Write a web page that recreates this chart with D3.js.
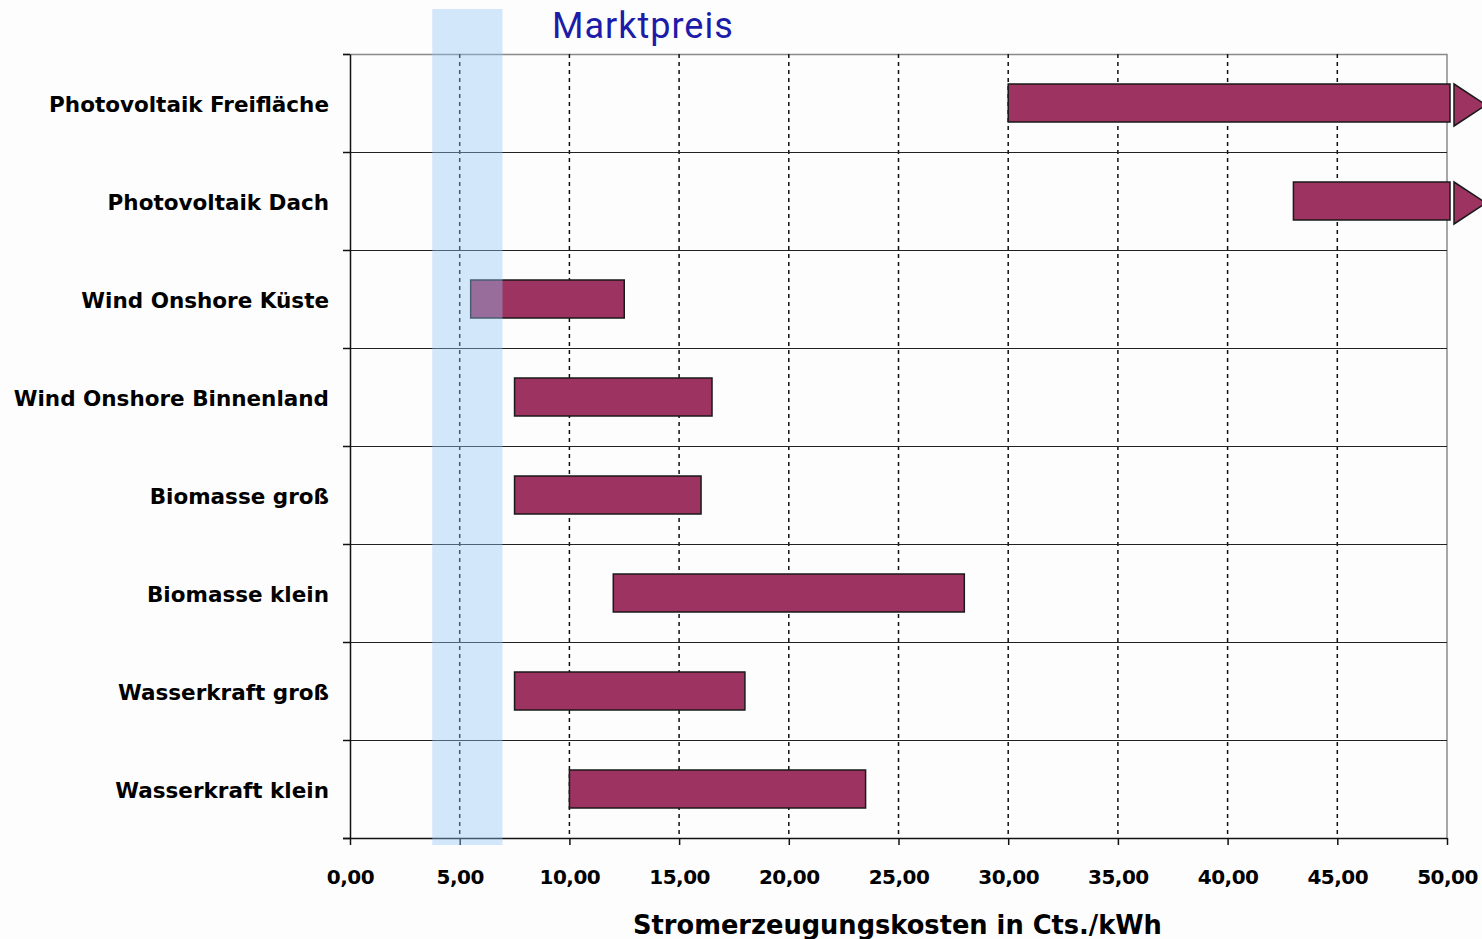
<!DOCTYPE html>
<html>
<head>
<meta charset="utf-8">
<script src="https://cdn.jsdelivr.net/npm/d3@7"></script>
<style>
  body { margin: 0; background: #fdfdfd; }
  svg { display: block; }
</style>
</head>
<body>
<div id="chart"></div>
<script>
// Data
const categories = [
  "Photovoltaik Freifläche",
  "Photovoltaik Dach",
  "Wind Onshore Küste",
  "Wind Onshore Binnenland",
  "Biomasse groß",
  "Biomasse klein",
  "Wasserkraft groß",
  "Wasserkraft klein"
];
const costLow = [30, 43, 5.5, 7.5, 7.5, 12, 7.5, 10];
const costHigh = [50, 50, 12.5, 16.5, 16, 28, 18, 23.5];
const openEnded = [true, true, false, false, false, false, false, false];
const marketPrice = [3.75, 6.95];
const xTicks = [0, 5, 10, 15, 20, 25, 30, 35, 40, 45, 50];

const W = 1482, H = 939;
const mLeft = 350, mRight = 1447, mTop = 54, mBottom = 838;
const labelFont = "'DejaVu Sans', Verdana, sans-serif";

const svg = d3.select("#chart").append("svg")
  .attr("width", W).attr("height", H);

const x = d3.scaleLinear().domain([0, 50]).range([mLeft, mRight]);
const y = d3.scaleBand().domain(categories).range([mTop, mBottom]);

const fmt = d => d3.format(".2f")(d).replace(".", ",");

// plot frame (top + right, grey)
svg.append("path")
  .attr("d", `M${mLeft - 7},${mTop + 0.5}H${mRight}V${mBottom}`)
  .attr("fill", "none").attr("stroke", "#8a8a8a").attr("stroke-width", 1.5);

// vertical dashed grid
svg.append("g").selectAll("line")
  .data(xTicks.filter(d => d > 0 && d < 50))
  .enter().append("line")
  .attr("x1", d => x(d)).attr("x2", d => x(d))
  .attr("y1", mTop).attr("y2", mBottom)
  .attr("stroke", "#111").attr("stroke-width", 1.5)
  .attr("stroke-dasharray", "4,4");

// row separators
svg.append("g").selectAll("line")
  .data(categories.slice(1))
  .enter().append("line")
  .attr("x1", mLeft - 7).attr("x2", mRight)
  .attr("y1", d => y(d) + 0.5).attr("y2", d => y(d) + 0.5)
  .attr("stroke", "#222").attr("stroke-width", 1.2);

// x axis
const xAxis = svg.append("g")
  .attr("transform", `translate(0,${mBottom})`)
  .call(d3.axisBottom(x).tickValues(xTicks).tickFormat(fmt).tickSize(7).tickPadding(25).tickSizeOuter(0));
xAxis.select(".domain").attr("d", `M${mLeft - 7},0.5H${mRight}`).attr("stroke", "#111").attr("stroke-width", 1.5);
xAxis.selectAll(".tick line").attr("stroke", "#111").attr("stroke-width", 1.5);
xAxis.selectAll(".tick text")
  .attr("fill", "#000")
  .style("font-family", labelFont)
  .style("font-weight", "bold")
  .style("letter-spacing", "-0.5px")
  .style("font-size", "20px");

// y axis
const yAxis = svg.append("g")
  .attr("transform", `translate(${mLeft},0)`)
  .call(d3.axisLeft(y).tickSize(0).tickPadding(21));
yAxis.select(".domain").attr("stroke", "#111").attr("stroke-width", 1.5);
yAxis.selectAll(".tick text")
  .attr("fill", "#000")
  .attr("dy", "0.4em")
  .style("font-family", labelFont)
  .style("font-weight", "bold")
  .style("font-size", "21.5px");
// y ticks at row boundaries
svg.append("g").selectAll("line")
  .data(categories.map(c => y(c)).concat([mBottom]))
  .enter().append("line")
  .attr("x1", mLeft - 7).attr("x2", mLeft)
  .attr("y1", d => d + 0.5).attr("y2", d => d + 0.5)
  .attr("stroke", "#111").attr("stroke-width", 1.5);

// bars
const barH = 38;
svg.append("g").selectAll("rect")
  .data(categories)
  .enter().append("rect")
  .attr("x", (d, i) => x(costLow[i]))
  .attr("width", (d, i) => x(costHigh[i]) - x(costLow[i]) + (openEnded[i] ? 3 : 0))
  .attr("y", d => y(d) + y.bandwidth() / 2 - barH / 2)
  .attr("height", barH)
  .attr("fill", "#9c3360")
  .attr("stroke", "#1a1a1a").attr("stroke-width", 1.5);

// arrows for open-ended ranges
svg.append("g").selectAll("path")
  .data(categories.filter((d, i) => openEnded[i]))
  .enter().append("path")
  .attr("d", d => {
    const cy = y(d) + y.bandwidth() / 2 + 2;
    const x0 = x(50) + 7;
    return `M${x0},${cy - 21}L${x0 + 32},${cy}L${x0},${cy + 21}Z`;
  })
  .attr("fill", "#9c3360")
  .attr("stroke", "#1a1a1a").attr("stroke-width", 1.5);

// market price band
svg.append("rect")
  .attr("x", x(marketPrice[0]))
  .attr("width", x(marketPrice[1]) - x(marketPrice[0]))
  .attr("y", 9).attr("height", 836)
  .attr("fill", "rgb(147,197,247)")
  .attr("opacity", 0.4);

svg.append("text")
  .attr("x", 552).attr("y", 38)
  .attr("fill", "#1c1ca8")
  .style("font-family", "Roboto, 'Open Sans', sans-serif")
  .style("font-size", "36px")
  .style("letter-spacing", "1px")
  .text("Marktpreis");

// axis title
svg.append("text")
  .attr("x", (633 + 1162) / 2).attr("y", 934)
  .attr("text-anchor", "middle")
  .attr("fill", "#000")
  .style("font-family", labelFont)
  .style("font-weight", "bold")
  .style("font-size", "25.7px")
  .text("Stromerzeugungskosten in Cts./kWh");
</script>
</body>
</html>
